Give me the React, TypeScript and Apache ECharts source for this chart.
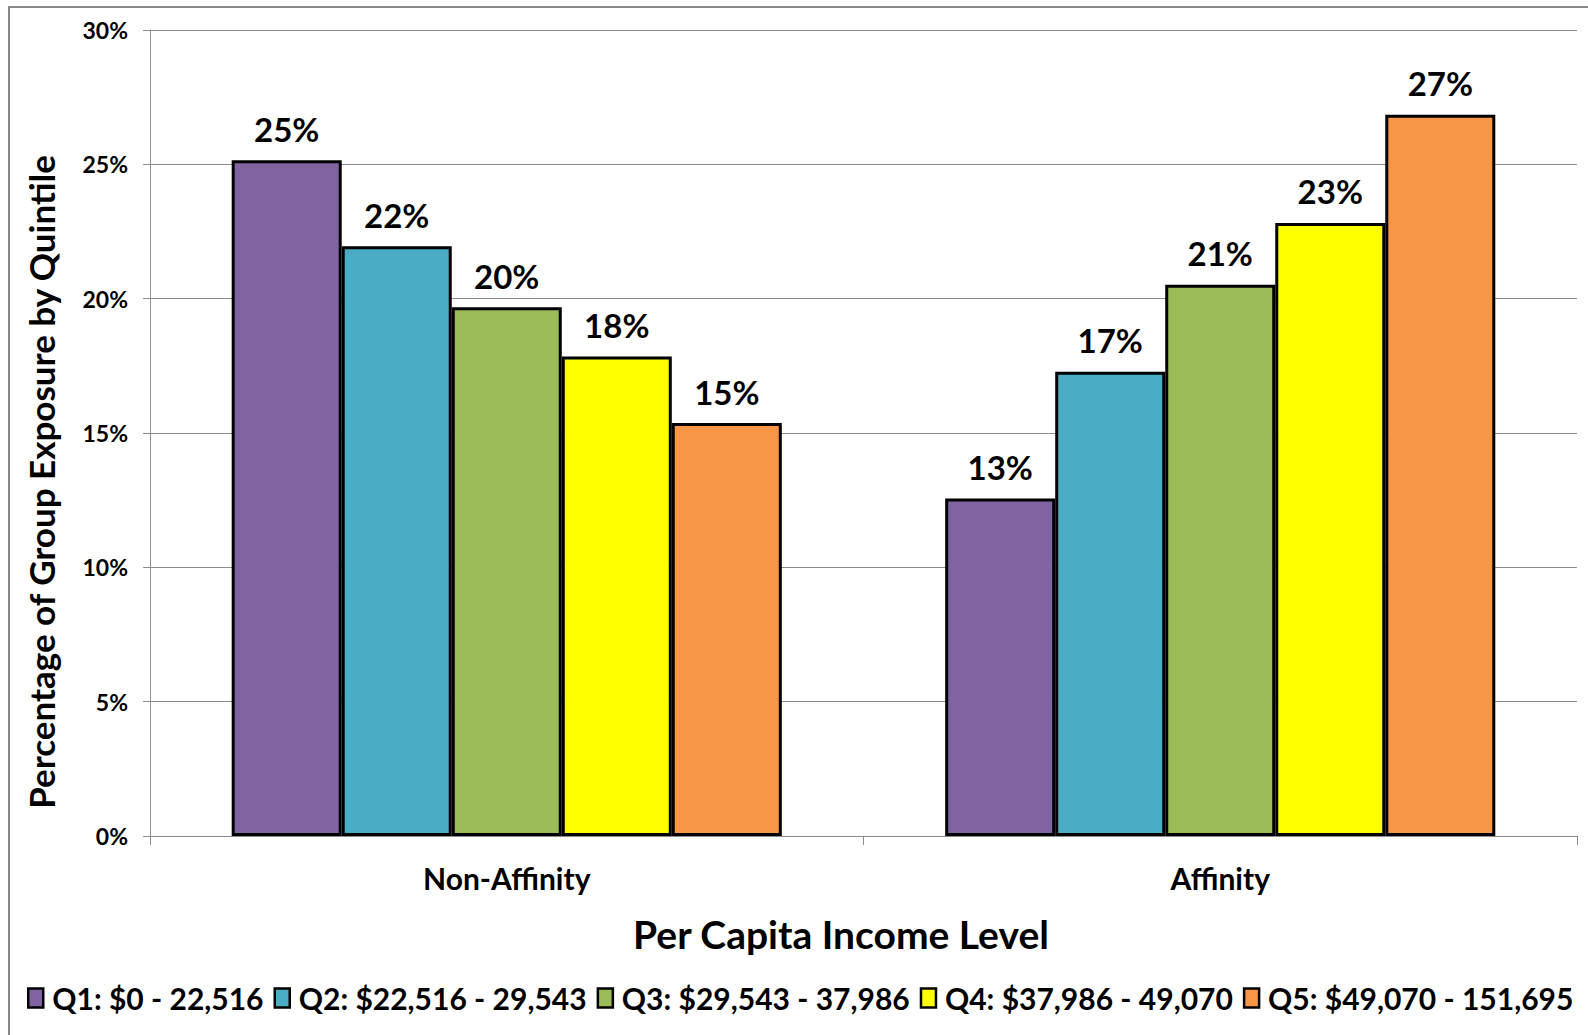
import React, { useEffect, useRef } from "react";
import * as echarts from "echarts";

const categories = ["Non-Affinity", "Affinity"];
const seriesNames = [
  "Q1: $0 - 22,516",
  "Q2: $22,516 - 29,543",
  "Q3: $29,543 - 37,986",
  "Q4: $37,986 - 49,070",
  "Q5: $49,070 - 151,695",
];
const q1Values = [25.15, 12.56];
const q2Values = [21.95, 17.28];
const q3Values = [19.68, 20.52];
const q4Values = [17.85, 22.82];
const q5Values = [15.37, 26.85];
const seriesValues = [q1Values, q2Values, q3Values, q4Values, q5Values];
const colors = ["#8064A2", "#4BACC6", "#9BBB59", "#FFFF00", "#F79646"];
const yTicks = { min: 0, max: 30, interval: 5 };
const yTitle = "Percentage of Group Exposure by Quintile";
const xTitle = "Per Capita Income Level";

const FONT = "Lato";

export default function App() {
  const ref = useRef<HTMLDivElement>(null);
  useEffect(() => {
    document.body.style.margin = "0";
    const chart = echarts.init(ref.current!, null, { renderer: "svg" });
    chart.setOption({
      animation: false,
      backgroundColor: "#ffffff",
      textStyle: { fontFamily: FONT },
      grid: { left: 150, right: 11, top: 30, bottom: 199 },
      legend: {
        left: 27,
        top: 983,
        itemWidth: 15,
        itemHeight: 19,
        itemGap: 10,
        icon: "rect",
        itemStyle: { borderColor: "#000", borderWidth: 2.5 },
        textStyle: {
          fontFamily: FONT,
          fontWeight: "bold",
          fontSize: 30,
          color: "#000",
          padding: [0, 0, 0, 4],
        },
        padding: 0,
        data: seriesNames,
      },
      xAxis: {
        type: "category",
        data: categories,
        axisLine: { lineStyle: { color: "#8c8c8c", width: 1 } },
        axisTick: { show: true, length: 9, lineStyle: { color: "#8c8c8c" } },
        axisLabel: {
          fontFamily: FONT,
          fontWeight: "bold",
          fontSize: 30,
          color: "#000",
          margin: 27,
        },
      },
      yAxis: {
        type: "value",
        min: yTicks.min,
        max: yTicks.max,
        interval: yTicks.interval,
        axisLine: { show: true, lineStyle: { color: "#8c8c8c", width: 1 } },
        axisTick: { show: true, length: 7, lineStyle: { color: "#8c8c8c" } },
        splitLine: { lineStyle: { color: "#8c8c8c", width: 1 } },
        axisLabel: {
          formatter: "{value}%",
          fontFamily: FONT,
          fontWeight: "bold",
          fontSize: 23,
          color: "#000",
          margin: 22,
        },
      },
      series: seriesNames.map((name, i) => ({
        name,
        type: "bar",
        data: seriesValues[i],
        barGap: "0%",
        barCategoryGap: "22.9%",
        itemStyle: { color: colors[i], borderColor: "#000", borderWidth: 3 },
        label: {
          show: true,
          position: "top",
          distance: 15,
          formatter: (p: any) => Math.round(p.value) + "%",
          fontFamily: FONT,
          fontWeight: "bold",
          fontSize: 33,
          color: "#000",
        },
      })),
      graphic: [
        {
          type: "rect",
          silent: true,
          z: 100,
          shape: { x: 9, y: 7, width: 1640, height: 1100 },
          style: { fill: "none", stroke: "#888888", lineWidth: 2 },
        },
        {
          type: "text",
          x: 41,
          y: 482,
          rotation: Math.PI / 2,
          style: {
            text: yTitle,
            fontFamily: FONT,
            fontWeight: "bold",
            fontSize: 35,
            fill: "#000",
            align: "center",
            verticalAlign: "middle",
          },
        },
        {
          type: "text",
          x: 841,
          y: 934,
          style: {
            text: xTitle,
            fontFamily: FONT,
            fontWeight: "bold",
            fontSize: 39,
            fill: "#000",
            align: "center",
            verticalAlign: "middle",
          },
        },
      ],
    });
    return () => chart.dispose();
  }, []);
  return (
    <div
      ref={ref}
      style={{ position: "fixed", left: 0, top: 0, width: 1588, height: 1035 }}
    />
  );
}
